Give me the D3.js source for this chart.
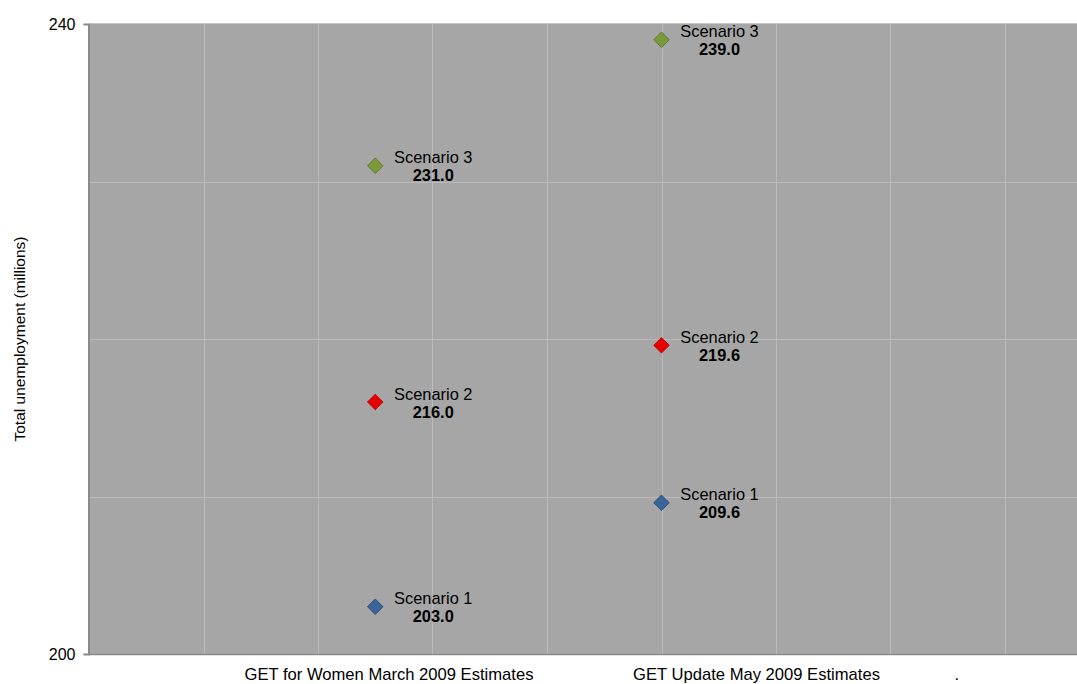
<!DOCTYPE html>
<html><head><meta charset="utf-8">
<script src="https://cdn.jsdelivr.net/npm/d3@7"></script>
<style>body{margin:0;background:#fff;}svg{display:block;font-family:"Liberation Sans",Arial,sans-serif;}</style>
</head><body>
<script>
const categories = ["GET for Women March 2009 Estimates", "GET Update May 2009 Estimates", "."];
const categoryPos = [2.5, 5];
const categoryLabelPos = [2.62, 5.83, 7.58];
const seriesNames = ["Scenario 1", "Scenario 2", "Scenario 3"];
const seriesColors = ["#3b6598", "#e40000", "#7a9a3a"];
const seriesStroke = ["#24446e", "#c00000", "#55702a"];
const scenario1 = [203.0, 209.6];
const scenario2 = [216.0, 219.6];
const scenario3 = [231.0, 239.0];
const yTicks = [200, 210, 220, 230, 240];
const xGrid = [1, 2, 3, 4, 5, 6, 7, 8];

const W = 1077, H = 684;
const m = {l: 89, t: 24, r: 0, b: 30};
const svg = d3.select("body").append("svg").attr("width", W).attr("height", H);
const x = d3.scaleLinear().domain([0, 8.6]).range([m.l, m.l + 8.6 * 114.5]);
const y = d3.scaleLinear().domain([200, 240]).range([654, 24]);

svg.append("rect").attr("x", m.l).attr("y", y(240)).attr("width", W - m.l).attr("height", y(200) - y(240)).attr("fill", "#a6a6a6");

// grid
svg.append("g").selectAll("line").data(xGrid).join("line")
  .attr("x1", d => Math.round(x(d)) + 0.5).attr("x2", d => Math.round(x(d)) + 0.5)
  .attr("y1", y(240)).attr("y2", y(200)).attr("stroke", "#bababa").attr("stroke-width", 1);
svg.append("g").selectAll("line").data(yTicks.slice(1, -1)).join("line")
  .attr("x1", m.l).attr("x2", W).attr("y1", d => Math.round(y(d)) + 0.5).attr("y2", d => Math.round(y(d)) + 0.5)
  .attr("stroke", "#bababa").attr("stroke-width", 1);
// top border
svg.append("line").attr("x1", m.l).attr("x2", W).attr("y1", y(240) - 0.5).attr("y2", y(240) - 0.5).attr("stroke", "#c8c8c8");

// y axis
const yAxis = d3.axisLeft(y).tickValues([200, 240]).tickSize(5).tickFormat(d3.format("d"));
const ya = svg.append("g").attr("transform", `translate(${m.l - 0.5},0)`).call(yAxis);
ya.select(".domain").attr("stroke", "#8a8a8a").attr("stroke-width", 2);
ya.selectAll(".tick line").attr("stroke", "#8a8a8a");
ya.selectAll(".tick text").attr("fill", "#000").attr("x", -13).attr("dy", "0.36em")
  .style("font-size", "16px").style("font-family", '"Liberation Sans",Arial,sans-serif');

// bottom axis line
svg.append("line").attr("x1", m.l).attr("x2", W).attr("y1", y(200) + 0.5).attr("y2", y(200) + 0.5).attr("stroke", "#8a8a8a").attr("stroke-width", 1.5);

// category labels
svg.append("g").selectAll("text").data(categories).join("text")
  .attr("x", (d, i) => x(categoryLabelPos[i])).attr("y", 680)
  .attr("text-anchor", "middle").attr("font-size", 16.6).attr("fill", "#000").text(d => d);

// y title
svg.append("text").attr("transform", `translate(25,${(y(200) + y(240)) / 2}) rotate(-90)`)
  .attr("text-anchor", "middle").attr("font-size", 15.5).attr("fill", "#000").text("Total unemployment (millions)");

// points
const allSeries = [scenario1, scenario2, scenario3];
const diamond = d3.symbol().type(d3.symbolDiamond2).size(155);
allSeries.forEach((vals, si) => {
  const g = svg.append("g");
  vals.forEach((v, ci) => {
    const px = x(categoryPos[ci]), py = y(v);
    g.append("path").attr("d", diamond).attr("transform", `translate(${px},${py})`)
      .attr("fill", seriesColors[si]).attr("stroke", seriesStroke[si]).attr("stroke-width", 0.8);
    g.append("text").attr("x", px + 58).attr("y", py - 2.5).attr("text-anchor", "middle")
      .attr("font-size", 16.4).attr("fill", "#000").text(seriesNames[si]);
    g.append("text").attr("x", px + 58).attr("y", py + 15.5).attr("text-anchor", "middle")
      .attr("font-size", 16.4).attr("font-weight", "bold").attr("fill", "#000").text(d3.format(".1f")(v));
  });
});
</script>
</body></html>
